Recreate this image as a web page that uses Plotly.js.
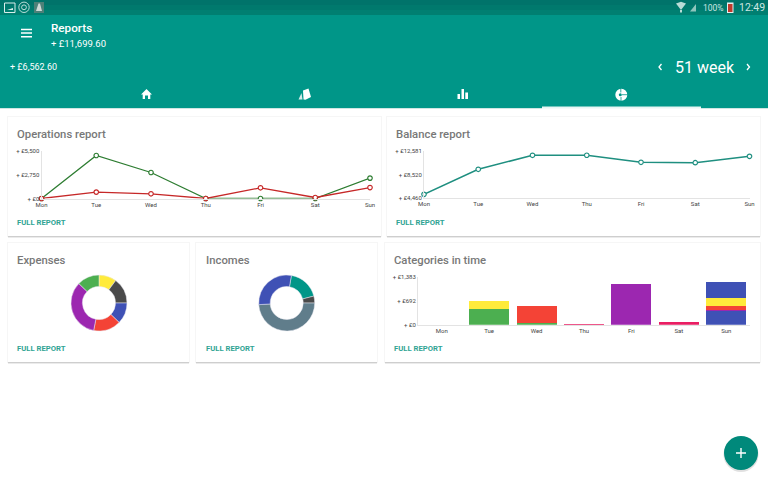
<!DOCTYPE html>
<html>
<head>
<meta charset="utf-8">
<script src="https://cdn.plot.ly/plotly-3.0.1.min.js"></script>
<style>html,body{margin:0;padding:0;background:#fff;overflow:hidden}#c{width:768px;height:480px}</style>
</head>
<body>
<div id="c"></div>
<script>
// ---------- data ----------
const days = ['Mon','Tue','Wed','Thu','Fri','Sat','Sun'];
const opsIncome  = [0,4980,3010,0,0,0,2360];
const opsExpense = [0,740,545,0,1240,115,1270];
const opsTicks = [0,2750,5500];
const opsTickText = ['+ £0','+ £2,750','+ £5,500'];
const balance = [5100,9420,11840,11850,10630,10560,11660];
const balTicks = [4460,8520,12581];
const balTickText = ['+ £4,460','+ £8,520','+ £12,581'];
const catTicks = [0,692,1383];
const catTickText = ['+ £0','+ £692','+ £1,383'];
const barPink   = [0,0,0,15,0,70,0];
const barIndigo = [0,0,0,0,0,0,395];
const barGreen  = [0,446,50,0,0,0,0];
const barPurple = [0,0,0,0,1190,0,45];
const barRed    = [0,0,490,0,0,0,100];
const barYellow = [0,250,0,0,0,0,240];
const barIndigo2= [0,0,0,0,0,0,462];
const expenseValues = [36.7,53.3,44,57,123,46];
const expenseColors = ['#ffeb3b','#4a4a4a','#3f51b5','#f44336','#9c27b0','#4caf50'];
const incomeValues = [66,14.4,176.5,103];
const incomeColors = ['#009688','#4a4a4a','#607d8b','#3f51b5'];

// ---------- page geometry helpers ----------
const W = 768, H = 480;
const fx = x => x / W, fy = y => 1 - y / H;
const domX = (a,b) => [fx(a), fx(b)], domY = (top,bot) => [fy(bot), fy(top)];
const FONT = 'Roboto, sans-serif';
const shapes = [], annotations = [];
function rect(x0,y0,x1,y1,fill,layer){
  shapes.push({type:'rect',xref:'paper',yref:'paper',x0:fx(x0),x1:fx(x1),y0:fy(y0),y1:fy(y1),fillcolor:fill,line:{width:0},layer:layer||'below'});
}
function circ(cx,cy,r,fill,lineCol,lw,layer){
  shapes.push({type:'circle',xref:'paper',yref:'paper',x0:fx(cx-r),x1:fx(cx+r),y0:fy(cy+r),y1:fy(cy-r),fillcolor:fill,line:{width:lw||0,color:lineCol||fill},layer:layer||'above'});
}
function path(d,fill,lineCol,lw){
  const s = d.replace(/(-?[\d.]+) (-?[\d.]+)/g,(m,a,b)=>fx(+a)+' '+fy(+b));
  shapes.push({type:'path',xref:'paper',yref:'paper',path:s,fillcolor:fill||'rgba(0,0,0,0)',line:{width:lw||0,color:lineCol||'rgba(0,0,0,0)'},layer:'above'});
}
function text(x,y,t,size,color,anchor,weight){
  annotations.push({xref:'paper',yref:'paper',x:fx(x),y:fy(y),text:t,showarrow:false,xanchor:anchor||'left',yanchor:'middle',borderpad:0,borderwidth:0,
    font:{family:FONT,size:size,color:color,weight:weight||400}});
}
function card(x0,y0,x1,y1,title,tx,ly){
  rect(x0-1,y0-1,x1+1,y1+1,'rgba(0,0,0,0.035)');
  rect(x0,y0+1,x1,y1+1.5,'rgba(0,0,0,0.16)');
  rect(x0,y0,x1,y1,'#ffffff');
  text(tx,y0+17,title,11.3,'#787878','left',500);
  text(tx,ly,'FULL REPORT',7.7,'#30a494','left',700);
}

// ---------- chrome ----------
rect(0,0,W,5,'#00736a');
rect(0,5,W,10,'#00796d');
rect(0,10,W,15,'#007f71');
rect(0,15,W,108,'#009688');
rect(542,106.5,701,108.5,'#e8f6f4');
rect(0,108,542,109,'#cfe6e3');
rect(701,108,W,109,'#cfe6e3');

card(8,117,381,236,'Operations report',17,222);
card(387,117,760,236,'Balance report',396,222);
card(8,243,189,362,'Expenses',17,348);
card(196,243,377,362,'Incomes',205.5,348);
card(385,243,760,362,'Categories in time',393.5,348);

text(51,28.5,'Reports',11.7,'#ffffff','left',500);
text(51,43,'+ £11,699.60',9.5,'#ffffff');
text(10,67,'+ £6,562.60',9,'#ffffff');
text(675,67,'51 week',16,'#ffffff');
text(703,7.5,'100%',8.5,'#cde6e2');
text(739,7.5,'12:49',10.5,'#cde6e2');

// hamburger
path('M 21 29.5 L 32 29.5 M 21 33 L 32 33 M 21 36.8 L 32 36.8',null,'#ffffff',1.4);
// chevrons
path('M 661.5 64 L 659 67 L 661.5 70',null,'#ffffff',1.3);
path('M 747 64 L 749.5 67 L 747 70',null,'#ffffff',1.3);
// home
path('M 146.5 89 L 152 94.5 L 150.3 94.5 L 150.3 99 L 148 99 L 148 95.5 L 145 95.5 L 145 99 L 142.7 99 L 142.7 94.5 L 141 94.5 Z','#ffffff');
// cards
path('M 303 90.5 L 308.5 88.5 L 311 97 L 305.5 99.8 L 303.5 99.5 Z','#ffffff');
path('M 301.5 93 L 302.5 99.5 L 298.5 99.5 Z','#d5ecea');
// bars
path('M 457.5 94 L 460 94 L 460 99 L 457.5 99 Z M 461.5 89 L 464 89 L 464 99 L 461.5 99 Z M 465.3 92.5 L 468 92.5 L 468 99 L 465.3 99 Z','#ffffff');
// pie icon
circ(621.3,94.7,6,'#ffffff');
circ(620.3,94.7,1.5,'#009688');
path('M 620.8 88.5 L 620.8 92.5 M 621 97 L 621 101 M 622 94.7 L 628 94.7',null,'#009688',0.8);
// status bar left
path('M 4.5 3 L 15 3 L 15 12.5 L 4.5 12.5 Z',null,'#d9eeeb',1);
path('M 7 10 L 10 9 L 13 8 L 13 10 Z','#d9eeeb');
circ(24,7.3,5.2,'rgba(0,0,0,0)','#cde6e2',0.9);
circ(24,7.3,2.4,'rgba(0,0,0,0)','#cde6e2',0.9);
rect(34,2,44,13,'#4d8078','above');
path('M 38.5 3.5 L 40 3.5 L 42 11 L 36 11 Z','#cfd8d6');
// status bar right
path('M 676 3.5 L 681 1.8 L 686 3.5 L 681 10 Z','#b9dcd7');
rect(680,10,682,12.5,'#b9dcd7','above');
path('M 690 11.5 L 696 4 L 696 11.5 Z','#8fc5bd');
rect(727,2.5,733.5,13,'#e8eeee','above');
rect(728,4,732.5,12,'#c0392b','above');

// FAB
circ(741,454.5,17.5,'rgba(0,0,0,0.12)');
circ(741,453,17,'#00897b');
path('M 736 453 L 746 453 M 741 448 L 741 458',null,'#ffffff',1.4);

// ---------- axes ----------
const tick = {family:FONT,size:6,color:'#444444'};
function xa(dom,range){
  return {domain:domX(...dom),range:range,type:'category',categoryorder:'array',categoryarray:days,
    tickvals:days,ticktext:days,showgrid:false,zeroline:false,showline:true,linecolor:'#e3e3e3',linewidth:1,
    ticks:'',tickfont:tick,fixedrange:true};
}
function ya(dom,range,tv,tt){
  return {domain:domY(...dom),range:range,tickvals:tv,ticktext:tt,showgrid:false,zeroline:false,showline:true,
    linecolor:'#e3e3e3',linewidth:1,ticks:'',tickfont:tick,ticklabelstandoff:1.5,fixedrange:true};
}
const layout = {
  width:W,height:H,margin:{l:0,r:0,t:0,b:0,pad:0},paper_bgcolor:'#ffffff',plot_bgcolor:'rgba(0,0,0,0)',
  showlegend:false,font:{family:FONT},shapes,annotations,barmode:'stack',bargap:0.155,
  xaxis: Object.assign(xa([41.5,370],[0,6]),{anchor:'y'}),
  yaxis: Object.assign(ya([151,198.5],[0,5500],opsTicks,opsTickText),{anchor:'x'}),
  xaxis2:Object.assign(xa([424,749.5],[0,6]),{anchor:'y2'}),
  yaxis2:Object.assign(ya([151,198],[4460,12581],balTicks,balTickText),{anchor:'x2'}),
  xaxis3:Object.assign(xa([418,750],[-0.5,6.5]),{anchor:'y3'}),
  yaxis3:Object.assign(ya([277,324.7],[0,1383],catTicks,catTickText),{anchor:'x3'})
};

// ---------- traces ----------
function line(y,color,xr,yr,w){
  return {type:'scatter',mode:'lines+markers',x:days,y:y,xaxis:xr,yaxis:yr,cliponaxis:false,hoverinfo:'skip',
    line:{color:color,width:w},marker:{size:4.5,color:'#ffffff',line:{color:color,width:1.2}}};
}
function bar(y,color){
  return {type:'bar',x:days,y:y,xaxis:'x3',yaxis:'y3',marker:{color:color,line:{width:0}},hoverinfo:'skip'};
}
function pie(values,colors,dx,dy,rotation){
  return {type:'pie',values:values,sort:false,direction:'clockwise',rotation:rotation,hole:0.59,textinfo:'none',hoverinfo:'skip',
    marker:{colors:colors,line:{color:'#e8e8f0',width:0.5}},domain:{x:domX(...dx),y:domY(...dy)}};
}
const traces = [
  line(opsIncome,'#2e7d32','x','y',1.3),
  line(opsExpense,'#c62828','x','y',1.3),
  line(balance,'#1f8f80','x2','y2',1.5),
  bar(barPink,'#e91e63'),
  bar(barIndigo,'#3f51b5'),
  bar(barGreen,'#4caf50'),
  bar(barPurple,'#9c27b0'),
  bar(barRed,'#f44336'),
  bar(barYellow,'#ffeb3b'),
  bar(barIndigo2,'#3f51b5'),
  pie(expenseValues,expenseColors,[71,127],[275,331],0),
  pie(incomeValues,incomeColors,[258.7,314.7],[275,331],9.7)
];
Plotly.newPlot('c',traces,layout,{staticPlot:true,displayModeBar:false});
</script>
</body>
</html>
